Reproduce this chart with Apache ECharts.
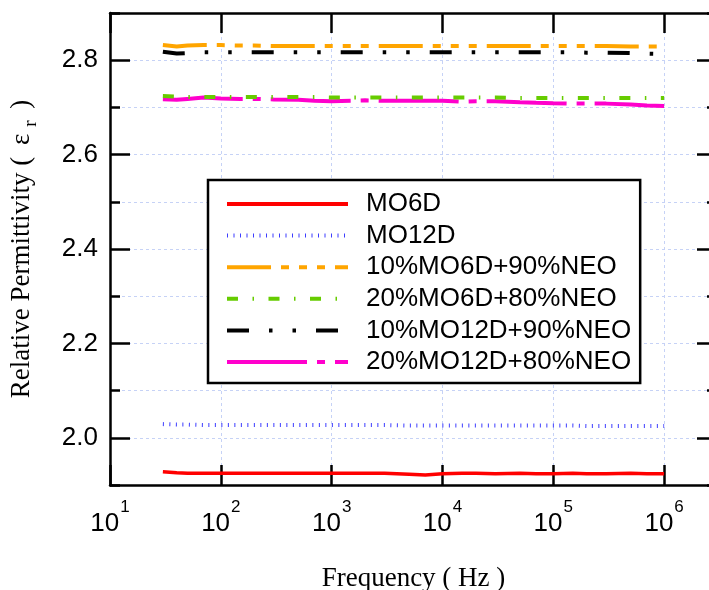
<!DOCTYPE html>
<html>
<head>
<meta charset="utf-8">
<script src="https://cdn.jsdelivr.net/npm/echarts@6/dist/echarts.min.js"></script>
<style>
  html, body { margin: 0; padding: 0; background: #fff; }
  #chart { width: 709px; height: 590px; }
</style>
</head>
<body>
<div id="chart"></div>
<script>
// Measurement frequencies (Hz)
const freq = [30, 40, 50, 70, 100, 150, 200, 300, 500, 700,
  1e3, 1.5e3, 2e3, 3e3, 5e3, 7e3, 1e4, 1.5e4, 2e4, 3e4,
  5e4, 7e4, 1e5, 1.5e5, 2e5, 3e5, 5e5, 7e5, 1e6];

// Relative permittivity of each sample
const mo6d = [1.928, 1.926, 1.925, 1.925, 1.925, 1.925, 1.925, 1.925, 1.925, 1.925,
  1.925, 1.925, 1.925, 1.925, 1.923, 1.921, 1.924, 1.925, 1.925, 1.924,
  1.925, 1.924, 1.924, 1.925, 1.924, 1.924, 1.925, 1.924, 1.924];
const mo12d = [2.029, 2.028, 2.028, 2.027, 2.027, 2.027, 2.027, 2.027, 2.027, 2.027,
  2.027, 2.027, 2.027, 2.027, 2.026, 2.026, 2.026, 2.026, 2.026, 2.026,
  2.026, 2.026, 2.026, 2.026, 2.025, 2.025, 2.025, 2.025, 2.025];
const mo6d10 = [2.832, 2.829, 2.831, 2.832, 2.832, 2.831, 2.831, 2.830, 2.830, 2.830,
  2.830, 2.830, 2.830, 2.830, 2.830, 2.830, 2.830, 2.830, 2.830, 2.830,
  2.830, 2.830, 2.830, 2.830, 2.830, 2.830, 2.829, 2.829, 2.829];
const mo6d20 = [2.724, 2.723, 2.722, 2.722, 2.722, 2.722, 2.722, 2.722, 2.722, 2.722,
  2.721, 2.721, 2.721, 2.721, 2.721, 2.721, 2.721, 2.721, 2.721, 2.721,
  2.720, 2.720, 2.720, 2.720, 2.720, 2.720, 2.720, 2.720, 2.720];
const mo12d10 = [2.818, 2.814, 2.815, 2.817, 2.817, 2.817, 2.817, 2.817, 2.817, 2.817,
  2.817, 2.817, 2.817, 2.817, 2.817, 2.817, 2.817, 2.817, 2.817, 2.817,
  2.817, 2.817, 2.817, 2.817, 2.816, 2.816, 2.815, 2.814, 2.813];
const mo12d20 = [2.717, 2.716, 2.718, 2.721, 2.719, 2.718, 2.718, 2.717, 2.716, 2.714,
  2.713, 2.714, 2.715, 2.714, 2.714, 2.714, 2.714, 2.712, 2.713, 2.713,
  2.711, 2.710, 2.709, 2.708, 2.708, 2.708, 2.706, 2.704, 2.703];

const seriesNames = ['MO6D', 'MO12D', '10%MO6D+90%NEO', '20%MO6D+80%NEO',
  '10%MO12D+90%NEO', '20%MO12D+80%NEO'];

// Axis ranges and tick positions
const yMin = 1.9, yMax = 2.9, yStep = 0.1;
const yLabelValues = [2.0, 2.2, 2.4, 2.6, 2.8];
const xMin = 10, xMax = 3e6;

const sans = 'Liberation Sans, Arial, sans-serif';
const serif = 'Liberation Serif, Times New Roman, serif';

const styles = [
  { color: '#ff0000', width: 3.5, type: 'solid' },
  { color: '#3d3dff', width: 4, type: [1, 5.5] },
  { color: '#ffa500', width: 4, type: [44, 10, 8, 10, 8, 10, 8, 10] },
  { color: '#66cc00', width: 4, type: [11, 14.5, 1.5, 14.5] },
  { color: '#000000', width: 4, type: [22, 20, 3.5, 20, 3.5, 20] },
  { color: '#ff00cc', width: 4, type: [80, 10, 8, 10] }
];
const values = [mo6d, mo12d, mo6d10, mo6d20, mo12d10, mo12d20];

const series = values.map((vals, k) => ({
  name: seriesNames[k],
  type: 'line',
  symbol: 'none',
  xAxisIndex: 0,
  yAxisIndex: 0,
  z: 10 - k,
  lineStyle: { color: styles[k].color, width: styles[k].width, type: styles[k].type, cap: 'butt' },
  itemStyle: { color: styles[k].color },
  data: freq.map((f, i) => [f, vals[i]])
}));

const gridLine = { show: true, lineStyle: { color: '#c6d2f6', width: 1, type: [3, 3] } };
const frame = { show: true, onZero: false, lineStyle: { color: '#000', width: 2.5 } };

function yAxisDef(pos, opts) {
  return Object.assign({
    type: 'value', position: pos, min: yMin, max: yMax, interval: yStep,
    axisLine: { show: false },
    axisTick: { show: false },
    axisLabel: { show: false },
    splitLine: { show: false }
  }, opts);
}

const option = {
  animation: false,
  backgroundColor: '#ffffff',
  grid: { left: 110, top: 13, right: -8, bottom: 105, containLabel: false, outerBoundsMode: 'none' },
  legend: {
    left: 208, top: 180,
    orient: 'vertical',
    data: seriesNames,
    backgroundColor: '#ffffff',
    borderColor: '#000', borderWidth: 2.5,
    padding: [11, 9, 8, 17],
    itemWidth: 121, itemHeight: 14, itemGap: 5.6,
    itemStyle: { color: 'rgba(0,0,0,0)', borderWidth: 0, opacity: 0 },
    lineStyle: { width: 4 },
    textStyle: { fontFamily: sans, fontSize: 26, color: '#000', lineHeight: 26, padding: [0, 0, 0, 13] }
  },
  xAxis: [
    {
      type: 'log', logBase: 10, min: xMin, max: xMax, position: 'bottom',
      name: 'Frequency ( Hz )', nameLocation: 'middle', nameGap: 80,
      nameTextStyle: { fontFamily: serif, fontSize: 27, color: '#000' },
      axisLine: frame,
      axisTick: { show: true, inside: true, length: 20, lineStyle: { color: '#000', width: 2.5 } },
      minorTick: { show: false },
      splitLine: gridLine,
      axisLabel: {
        margin: 26, showMaxLabel: false,
        formatter: (v) => {
          const e = Math.log10(v);
          const r = Math.round(e);
          if (Math.abs(e - r) > 1e-6) return '';
          return '{b|10}{s|' + r + '}';
        },
        rich: {
          b: { fontFamily: sans, fontSize: 26, color: '#000', lineHeight: 26, verticalAlign: 'bottom' },
          s: { fontFamily: sans, fontSize: 17, color: '#000', lineHeight: 17, padding: [0, 0, 21, 1], verticalAlign: 'bottom' }
        }
      }
    },
    {
      type: 'log', logBase: 10, min: xMin, max: xMax, position: 'top',
      axisLine: frame,
      axisTick: { show: true, inside: true, length: 20, lineStyle: { color: '#000', width: 2.5 } },
      axisLabel: { show: false },
      splitLine: { show: false }
    }
  ],
  yAxis: [
    yAxisDef('left', {
      name: 'Relative Permittivity ( {e|ε}{r|r} )',
      nameLocation: 'middle', nameGap: 69,
      nameTextStyle: {
        fontFamily: serif, fontSize: 27, color: '#000', lineHeight: 38,
        rich: {
          e: { fontFamily: serif, fontSize: 27, color: '#000', lineHeight: 38, padding: [0, 7, 0, 5] },
          r: { fontFamily: serif, fontSize: 19, color: '#000', lineHeight: 20, verticalAlign: 'bottom', padding: [0, 5, 0, 0] }
        }
      },
      axisLine: frame,
      axisTick: { show: true, inside: true, length: 10, lineStyle: { color: '#000', width: 2.5 } },
      splitLine: gridLine,
      axisLabel: {
        show: true, margin: 12, fontFamily: sans, fontSize: 26, color: '#000',
        customValues: yLabelValues,
        formatter: (v) => v.toFixed(1)
      }
    }),
    yAxisDef('left', {
      axisTick: { show: true, inside: true, length: 20, customValues: yLabelValues, lineStyle: { color: '#000', width: 2.5 } }
    }),
    yAxisDef('right', {
      axisLine: frame,
      axisTick: { show: true, inside: true, length: 10, lineStyle: { color: '#000', width: 2.5 } }
    }),
    yAxisDef('right', {
      axisTick: { show: true, inside: true, length: 20, customValues: yLabelValues, lineStyle: { color: '#000', width: 2.5 } }
    })
  ],
  series: series
};

const chart = echarts.init(document.getElementById('chart'), null, { renderer: 'canvas' });
chart.setOption(option);
</script>
</body>
</html>
